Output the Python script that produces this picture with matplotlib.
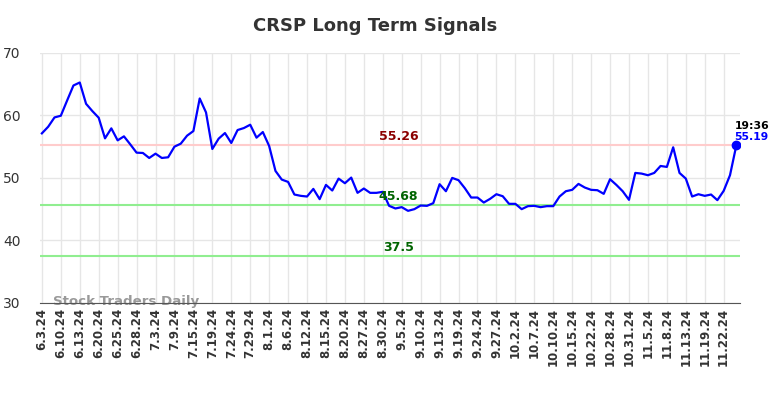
import matplotlib
matplotlib.use('Agg')
import matplotlib.pyplot as plt

# signal values, one per trading sample
signal = [
    57.13, 58.19, 59.68, 59.95, 62.39, 64.79, 65.27, 61.86, 60.69, 59.63,
    56.33, 57.93, 56.01, 56.65, 55.37, 54.04, 53.99, 53.19, 53.88, 53.19,
    53.30, 55.00, 55.48, 56.76, 57.50, 62.71, 60.48, 54.63, 56.28, 57.18,
    55.59, 57.66, 57.98, 58.51, 56.44, 57.34, 55.11, 51.12, 49.73, 49.36,
    47.34, 47.13, 47.02, 48.24, 46.60, 48.88, 47.98, 49.89, 49.15, 50.05,
    47.61, 48.30, 47.61, 47.61, 47.77, 45.53, 45.11, 45.32, 44.73, 45.00,
    45.58, 45.53, 45.96, 48.99, 47.87, 50.00, 49.63, 48.35, 46.86, 46.86,
    46.06, 46.65, 47.39, 47.07, 45.85, 45.85, 45.00, 45.48, 45.53, 45.32,
    45.48, 45.48, 47.02, 47.87, 48.09, 49.04, 48.46, 48.09, 48.03, 47.45,
    49.79, 48.88, 47.87, 46.49, 50.80, 50.69, 50.43, 50.80, 51.91, 51.76,
    54.90, 50.80, 49.89, 47.02, 47.39, 47.13, 47.34, 46.44, 47.93, 50.43,
    55.19,
]

tick_labels = [
    '6.3.24', '6.10.24', '6.13.24', '6.20.24', '6.25.24', '6.28.24', '7.3.24',
    '7.9.24', '7.15.24', '7.19.24', '7.24.24', '7.29.24', '8.1.24', '8.6.24',
    '8.12.24', '8.15.24', '8.20.24', '8.27.24', '8.30.24', '9.5.24', '9.10.24',
    '9.13.24', '9.19.24', '9.24.24', '9.27.24', '10.2.24', '10.7.24',
    '10.10.24', '10.15.24', '10.22.24', '10.28.24', '10.31.24', '11.5.24',
    '11.8.24', '11.13.24', '11.19.24', '11.22.24',
]
tick_step = 3

upper_level = 55.26
mid_level = 45.68
lower_level = 37.5
last_time = '19:36'

fig = plt.figure(figsize=(7.84, 3.98), dpi=100)
ax = fig.add_axes([0.051, 0.239, 0.893, 0.628])

x = list(range(len(signal)))
ax.plot(x, signal, color='#0000ff', linewidth=1.6, zorder=3)

# levels
ax.axhline(upper_level, color='#ffcccc', linewidth=1.5, zorder=2)
ax.axhline(mid_level, color='#90ee90', linewidth=1.5, zorder=2)
ax.axhline(lower_level, color='#90ee90', linewidth=1.5, zorder=2)

label_x = 56.5
ax.text(label_x, upper_level + 0.3, f'{upper_level:.2f}', color='#8b0000',
        fontsize=9, fontweight='bold', ha='center', va='bottom')
ax.text(label_x, mid_level + 0.3, f'{mid_level:.2f}', color='#006400',
        fontsize=9, fontweight='bold', ha='center', va='bottom')
ax.text(label_x, lower_level + 0.3, f'{lower_level}', color='#006400',
        fontsize=9, fontweight='bold', ha='center', va='bottom')

# last value marker
last_i = len(signal) - 1
ax.plot(last_i, signal[-1], 'o', color='#0000ff', markersize=6, zorder=4)
ax.text(last_i - 0.3, signal[-1] + 2.3, last_time, color='black', fontsize=7.8,
        fontweight='bold', ha='left', va='bottom')
ax.text(last_i - 0.3, signal[-1] + 0.5, f'{signal[-1]:.2f}', color='#0000ff',
        fontsize=7.8, fontweight='bold', ha='left', va='bottom')

# watermark
ax.text(1.7, 30.2, 'Stock Traders Daily', color='#999999', fontsize=9.6,
        fontweight='bold', ha='left', va='center', zorder=1)

ax.set_ylim(30, 70)
ax.set_xlim(-0.3, 110.6)
ax.set_yticks([30, 40, 50, 60, 70])
ax.set_xticks(range(0, tick_step * len(tick_labels), tick_step))
ax.set_xticklabels(tick_labels, rotation=90, fontsize=8.5, fontweight='bold')
ax.tick_params(axis='both', length=0, colors='#333333')
ax.tick_params(axis='y', labelsize=10, pad=14)
ax.grid(color='#e6e6e6', linewidth=1)
ax.set_axisbelow(True)
for side in ['top', 'right', 'left']:
    ax.spines[side].set_visible(False)
ax.spines['bottom'].set_color('#555555')

fig.text(0.478, 0.935, 'CRSP Long Term Signals', ha='center', va='center',
         fontsize=13, fontweight='bold', color='#333333')

plt.savefig('out.png', dpi=100)
